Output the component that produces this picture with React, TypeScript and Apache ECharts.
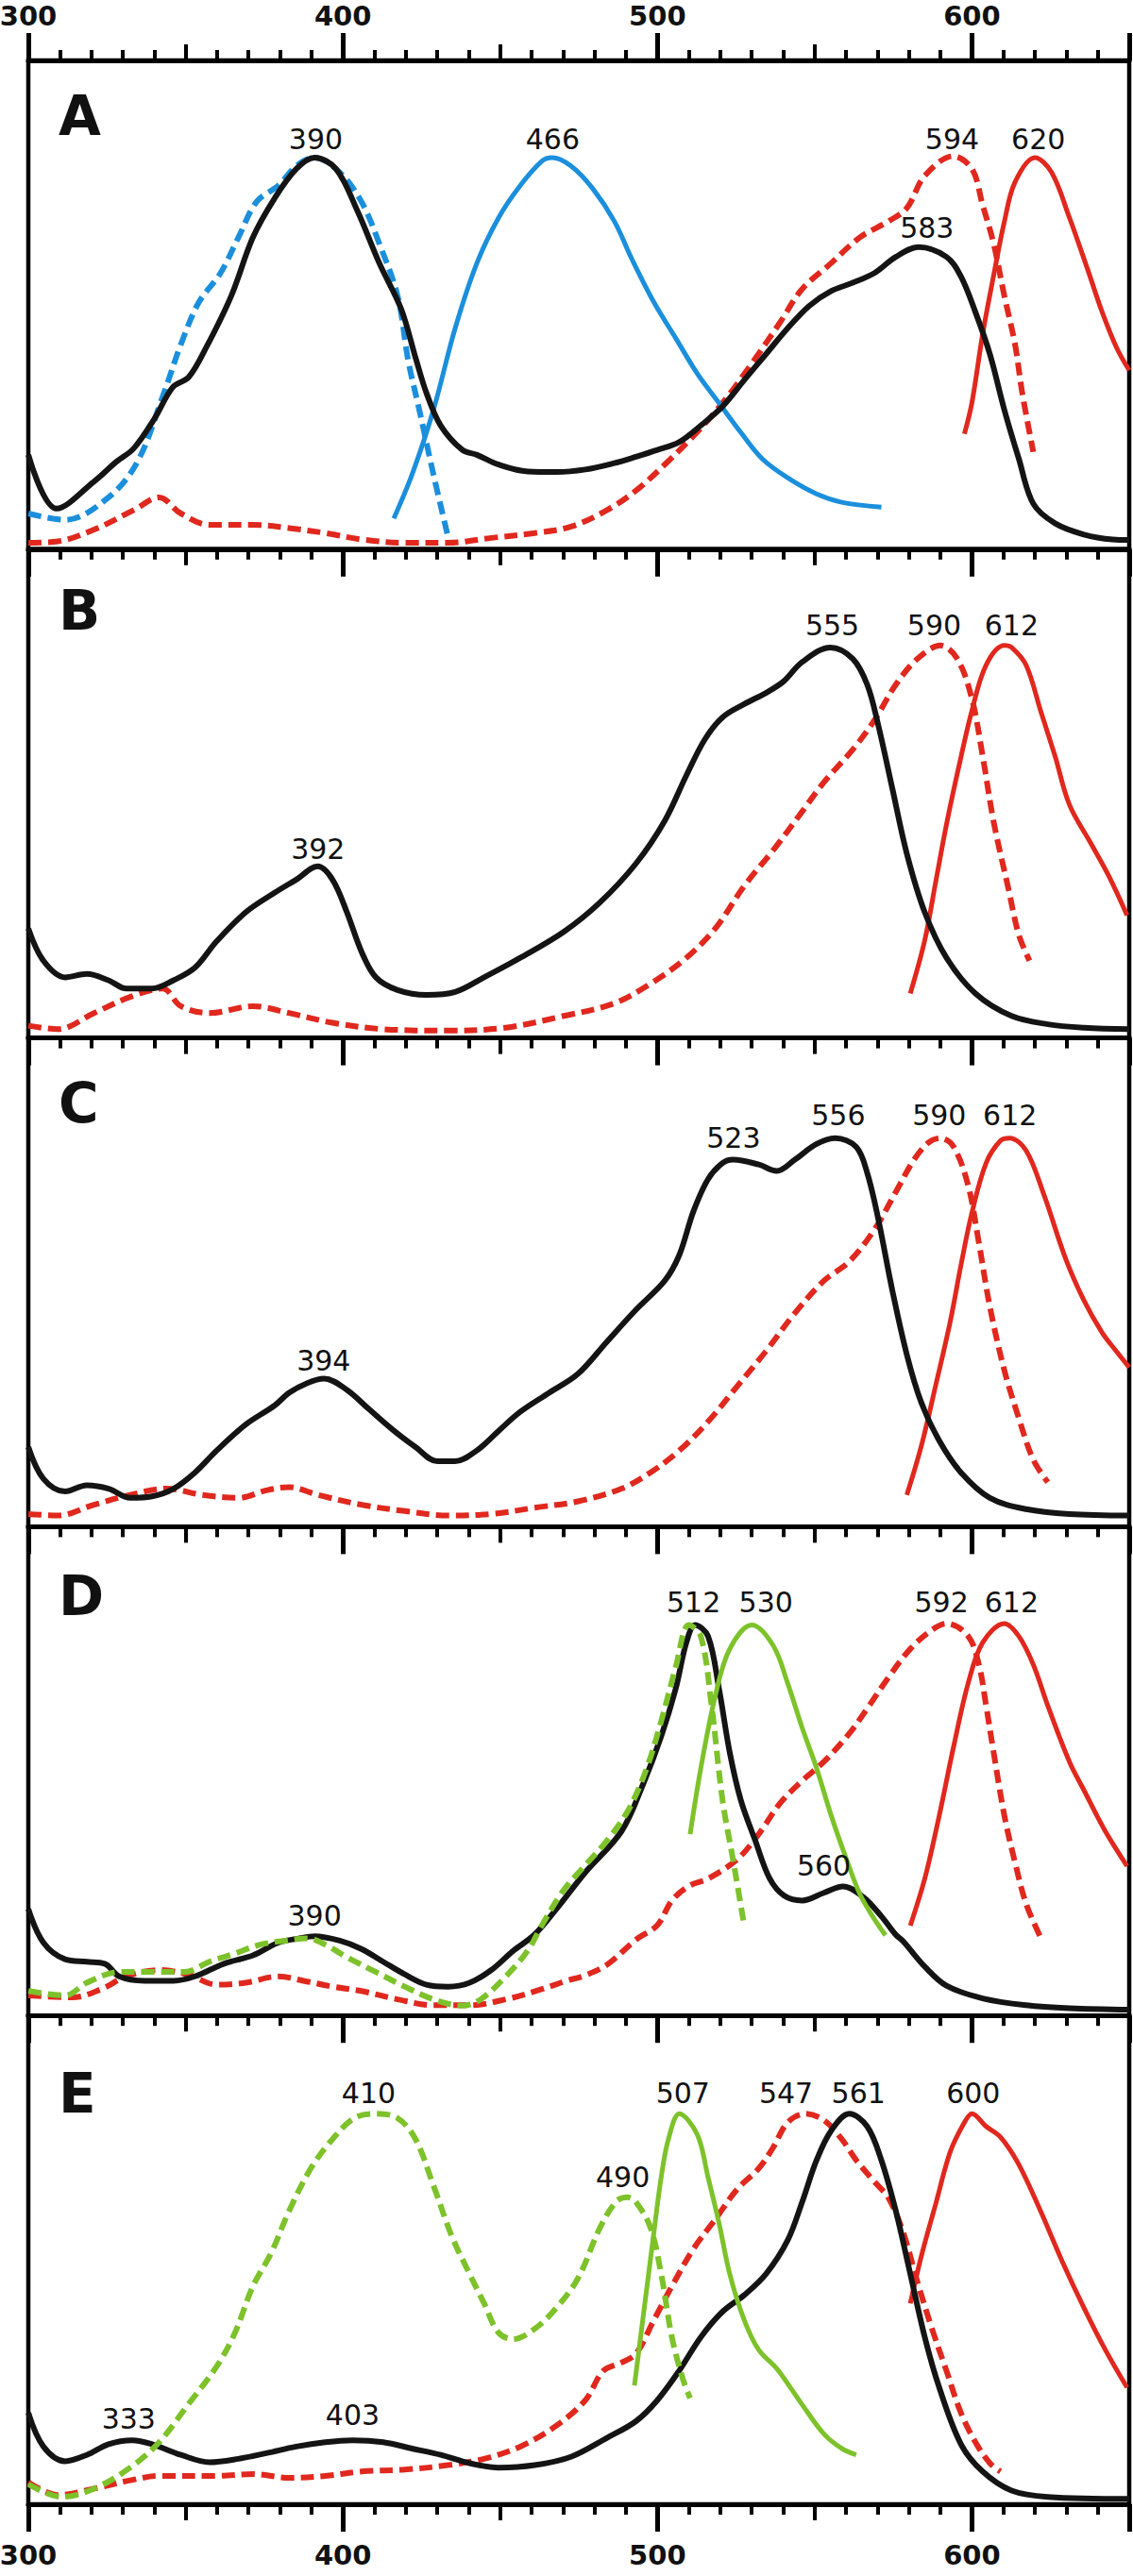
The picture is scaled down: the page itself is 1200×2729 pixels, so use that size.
import React, { useEffect, useRef } from "react";
import * as echarts from "echarts";

// ---------- axis / panel texts ----------
const X_MIN = 300;
const X_MAX = 650;
const TICK_LABELS = [300, 400, 500, 600];
const PANEL_LETTERS = ["A", "B", "C", "D", "E"];

// ---------- panel A ----------
const A_black = [[300,19.3],[309,8.3],[321,13.9],[328,17.9],[333.5,20.6],[340,26.6],[346,33.2],[351,35.2],[356.5,41.2],[364.5,51.8],[371.4,63.8],[378.3,71.8],[385.2,77.8],[391,80.1],[397.8,77.8],[404.7,69.1],[411.6,58.5],[418.5,49.2],[423.1,39.2],[426.6,31.9],[431.1,25.3],[438,20.3],[442.6,19.3],[449.5,17.3],[458.7,15.9],[467.9,15.8],[477.1,16.3],[486.3,17.6],[493.2,18.9],[500,20.3],[506.9,21.9],[513.8,25.3],[520.7,29.2],[527.6,34.6],[534.5,39.9],[541.4,45.2],[548.3,49.8],[555.2,52.8],[562.1,54.5],[569,56.5],[575.8,59.8],[583,61.8],[591.9,59.8],[596.5,55.8],[601.1,48.5],[605.7,39.9],[610.3,28.5],[614.9,18.5],[619.5,9.3],[626.4,5.3],[635.6,3.0],[644.7,2.0],[650,1.9]];
const A_blueDash = [[300,7.3],[311.7,6.0],[325.5,10.6],[334.7,17.9],[342.7,31.2],[348.5,41.9],[354.2,50.5],[361.1,56.5],[366.8,63.8],[372.6,71.1],[379.5,74.4],[385.2,78.4],[391,80.1],[399,77.1],[405.9,71.1],[411.6,62.5],[417.4,51.8],[420.8,38.5],[424.3,28.5],[428.8,15.3],[433.4,2.6]];
const A_blueSolid = [[416.2,6.3],[422,15.3],[428.8,28.5],[435.7,45.2],[442.6,58.5],[449.5,67.8],[456.4,74.4],[463.3,79.4],[466.5,80.1],[472.5,78.4],[479.4,73.8],[486.3,67.1],[492,59.2],[498.9,50.5],[505.8,43.2],[512.7,35.9],[519.6,29.9],[526.5,23.9],[533.3,18.5],[541.4,14.6],[550.6,11.3],[558.6,9.6],[571.2,8.6]];
const A_redDash = [[300,1.3],[309.4,1.6],[320.9,4.0],[333.5,8.0],[341.6,10.6],[348.5,7.3],[357.6,5.0],[371.4,5.0],[382.9,4.3],[394.4,3.3],[405.9,2.0],[419.7,1.3],[433.4,1.3],[447.2,2.3],[461,3.3],[472.5,4.6],[484,8.0],[493.2,12.0],[502.3,17.3],[511.5,23.2],[520.7,29.9],[529.9,37.9],[539.1,46.5],[546,53.2],[555.2,58.5],[564.4,63.8],[573.5,67.1],[579.3,69.8],[585,76.4],[594,80.4],[600,77.8],[603.4,70.4],[606.9,62.5],[610.3,51.8],[613.7,41.9],[616,31.9],[619.5,19.9]];
const A_redSolid = [[597.6,23.6],[600,30],[603.4,44],[606.9,56],[610.3,67],[613.7,75.1],[620,80.1],[625.3,77.1],[631,67.8],[636.8,57.2],[641.4,48.5],[646,41.2],[650,36.6]];
const A_labels: [number, number, string][] = [[391.4,83.9,"390"],[466.7,83.9,"466"],[593.7,83.9,"594"],[621.1,83.9,"620"],[585.7,65.7,"583"]];

// ---------- panel B ----------
const B_black = [[300,22.4],[304.8,15.8],[311.7,12.4],[318.6,13.1],[325.5,11.8],[331.2,10.1],[339.3,10.1],[346.2,11.8],[353,14.4],[359.9,19.8],[369.1,25.7],[378.3,29.7],[385.2,32.4],[392,35.1],[396.7,32.4],[401.3,25.7],[405.9,17.7],[410.5,12.4],[417.4,9.8],[426.6,8.8],[435.7,9.4],[444.9,12.4],[456.4,16.4],[470.2,21.7],[481.7,27.7],[493.2,35.7],[502.3,44.4],[509.2,53.7],[515,61.0],[520.7,65.6],[527.6,68.3],[534.5,70.6],[540.2,73.0],[546,76.9],[555,79.9],[562.1,77.6],[566.7,72.3],[570.1,64.3],[574.7,51.0],[579.3,37.7],[585,25.7],[591.9,16.4],[601.1,9.1],[612.6,4.5],[624.1,2.8],[635.6,2.1],[650,1.8]];
const B_redDash = [[300,2.5],[309.4,1.8],[320.9,5.1],[332.4,8.4],[342.7,10.1],[348.5,6.5],[357.6,5.1],[371.4,6.5],[382.9,5.1],[396.7,3.1],[412.8,1.8],[433.4,1.5],[451.8,2.1],[470.2,4.5],[486.3,7.1],[497.8,11.1],[509.2,16.4],[518.4,22.4],[527.6,31.1],[536.8,38.4],[546,46.3],[552.9,52.3],[562.1,59.0],[569,65.0],[575.8,72.3],[582.7,77.6],[590,80.3],[595.3,77.6],[599.9,69.6],[603.4,57.7],[606.9,44.2],[611.4,31.1],[614.9,21.1],[618.3,15.8]];
const B_redSolid = [[580.4,9.1],[585,20],[588.5,32],[592,44],[596,56],[600,67],[604.5,76.3],[610.3,80.3],[612.6,79.9],[617.2,76.3],[621.8,67.0],[626.4,57.7],[631,47.7],[637.9,39.7],[643.6,33.0],[649.3,25.1]];
const B_labels: [number, number, string][] = [[555.6,84.4,"555"],[588,84.4,"590"],[612.6,84.4,"612"],[392.1,38.7,"392"]];

// ---------- panel C ----------
const C_black = [[300,16.3],[304.8,9.8],[311.7,7.2],[318.6,8.5],[325.5,7.8],[332.4,5.9],[339.3,6.2],[346.2,7.8],[353,11.1],[359.9,15.6],[369.1,20.9],[378.3,24.8],[382.9,27.4],[388.7,29.4],[394,30.3],[401.3,28.0],[408.2,24.1],[416.3,19.6],[423.1,16.3],[430,13.4],[435.7,13.4],[442.6,15.6],[449.5,19.6],[456.4,23.5],[465.6,27.4],[474.8,31.3],[484,37.9],[493.2,44.4],[502.3,50.3],[506.9,55.5],[511.5,64.6],[516.1,71.1],[520.7,74.4],[524,75.1],[532.2,74.1],[537.9,72.8],[543.7,75.1],[550.6,78.3],[556.5,79.5],[563.2,77.7],[566.7,72.4],[570.1,63.3],[574.7,48.3],[579.3,35.2],[583.9,25.4],[589.6,17.6],[596.5,11.1],[605.7,5.9],[617.2,3.6],[631,2.6],[650,2.3]];
const C_redDash = [[300,2.6],[309.4,2.3],[320.9,4.5],[332.4,6.5],[343.9,7.8],[355.4,6.5],[366.8,5.9],[376,7.5],[382.9,8.1],[392.1,6.5],[405.9,4.5],[419.7,3.2],[433.4,2.3],[447.2,2.6],[461,3.9],[474.8,5.2],[488.6,7.8],[497.8,11.1],[507,15.6],[516.1,21.5],[525.3,28.7],[534.5,35.9],[543.7,43.7],[552.9,50.3],[560.9,54.2],[568.9,60.7],[575.8,68.5],[581.6,75.1],[586.2,78.6],[590,79.5],[594.2,77.7],[598.8,69.8],[602.2,58.1],[605.7,45.0],[610.3,32.0],[614.9,22.2],[619.5,13.7],[624.1,9.1]];
const C_redSolid = [[579.3,6.5],[583.9,16.5],[588.5,29],[593.1,42],[596.5,53.5],[599.9,64],[604.5,74.4],[609.1,79.0],[612,79.5],[617.2,77.0],[622.9,67.9],[629.8,54.8],[635.6,46.3],[641.3,39.8],[645.9,35.9],[650,32.6]];
const C_labels: [number, number, string][] = [[557.5,84.2,"556"],[589.6,84.2,"590"],[612.1,84.2,"612"],[524.2,79.5,"523"],[393.9,34.0,"394"]];

// ---------- panel D ----------
const D_black = [[300,21.8],[304.8,14.9],[311.7,11.5],[318.6,11.0],[324.3,10.6],[328.9,8.0],[337,7.1],[346.1,7.1],[353,8.0],[362.2,10.6],[371.4,12.3],[379.5,14.9],[386.3,15.8],[391,16.2],[399,15.3],[405.9,13.6],[412.8,11.0],[419.7,8.4],[426.6,6.3],[433.5,5.9],[440.3,6.7],[447.2,9.3],[454.1,13.2],[461,16.6],[467.9,21.8],[477.1,29.3],[488.6,37.7],[495.5,47.4],[501.2,57.1],[505.8,66.8],[509.2,76.3],[512,79.9],[516.1,77.6],[519.6,66.8],[523,53.8],[526.5,44.1],[531.1,35.8],[535.7,28.0],[540.3,24.5],[546,23.5],[552.9,25.1],[559,26.4],[565.5,24.2],[571.2,20.3],[575.8,16.5],[578.1,15.2],[585,10.0],[591.9,6.1],[603.4,3.5],[617.2,2.1],[631,1.5],[650,1.2]];
const D_greenDash = [[300,5.0],[311.7,4.1],[318.6,6.7],[328.9,8.9],[339.2,8.9],[349.6,8.9],[357.6,11.0],[365.7,12.7],[373.7,14.5],[381.7,15.3],[388.6,15.8],[394.4,14.5],[401.3,11.9],[410.5,8.9],[419.7,5.9],[428.8,3.3],[438,2.0],[443.8,3.3],[451.8,8.0],[458.7,13.2],[463.3,18.5],[470,25.5],[476,30.0],[484,35.8],[490.9,42.2],[496.6,50.6],[501.2,60.2],[505.8,71.2],[510,79.9],[513.8,77.6],[517.2,63.5],[520.7,44.1],[524.2,31.3],[527.6,18.4]];
const D_greenSolid = [[510.4,37.1],[513.8,50.6],[518.4,65.4],[523,75.0],[530,79.9],[536.8,75.7],[541.4,68.0],[546,58.9],[550.6,50.6],[555.2,41.0],[559.8,32.5],[564.4,24.8],[569,19.7],[572.5,16.4]];
const D_redDash = [[300,4.1],[314,3.7],[323.2,5.4],[331.2,8.0],[341.5,9.3],[350.7,8.4],[359.9,6.3],[369.1,6.7],[379.5,8.0],[387.5,7.1],[396.7,5.9],[405.9,5.0],[417.4,3.3],[428.8,2.1],[440.3,2.1],[451.8,3.3],[463.3,5.4],[471.1,7.1],[477,8.2],[484,10.4],[493.2,15.5],[500,18.5],[504.6,23.5],[510,26.5],[516.1,28.0],[525.3,31.9],[532.2,37.1],[539.1,43.5],[546,48.0],[552.9,51.9],[560.9,57.6],[566.7,62.8],[573.5,69.2],[580.4,75.0],[587.3,78.9],[592,80.2],[598.8,77.6],[602.2,71.8],[604.5,63.4],[606.9,53.8],[610.3,40.9],[613.7,31.3],[617.2,22.9],[621.8,16.0]];
const D_redSolid = [[580.4,18.4],[585,28.0],[589.6,40.9],[594.2,55.1],[598.8,68.0],[603.4,76.3],[610.3,80.2],[614.9,77.6],[619.5,71.8],[624.1,63.4],[631,51.9],[635.6,46.1],[642.4,37.7],[649.3,30.6]];
const D_labels: [number, number, string][] = [[511.5,84.6,"512"],[534.5,84.6,"530"],[590.3,84.6,"592"],[612.6,84.6,"612"],[552.9,30.6,"560"],[391,20.4,"390"]];

// ---------- panel E ----------
const E_black = [[300,18.7],[304.8,11.8],[311.7,8.8],[318.6,10.1],[325.5,12.3],[333,13.1],[339.3,12.3],[348.5,10.1],[357.6,8.6],[366.8,9.3],[376,10.5],[385.2,11.8],[394.4,12.7],[403,13.1],[412.8,12.7],[422,11.4],[431.1,10.1],[440.3,8.4],[449.5,7.5],[461,8.0],[472.5,9.7],[484,13.6],[493.2,17.0],[500,21.3],[506.9,27.3],[513.8,34.2],[520.7,39.4],[527.6,42.8],[534.5,47.1],[541.4,54.0],[546,61.8],[550.6,70.4],[555.2,76.4],[561,79.9],[566.7,77.3],[571.2,70.4],[575.8,60.0],[580.4,47.1],[585,34.2],[589.6,23.9],[596.5,12.3],[603.4,6.7],[612.6,2.8],[624.1,1.5],[650,1.1]];
const E_greenDash = [[300,4.1],[310.6,1.5],[320.9,3.2],[332.4,7.5],[341.6,12.7],[350.8,20.4],[359.9,28.2],[365.7,35.1],[371.4,44.6],[377.2,51.4],[382.9,60.0],[389.8,68.7],[396.7,74.7],[403.6,79.0],[410,79.9],[417.4,79.0],[423.1,74.7],[428.8,65.2],[434.6,54.9],[440.3,47.1],[444.9,41.1],[449.5,35.1],[454.1,33.8],[461,35.9],[467.9,40.2],[474.8,46.3],[481.7,56.5],[487,62.0],[490.5,62.8],[493.2,61.8],[497.8,56.6],[501.2,47.1],[504.6,34.2],[508.1,25.6],[510.4,21.7]];
const E_greenSolid = [[492.7,24.3],[495.5,38.5],[498.9,55.7],[501.2,66.9],[503.5,74.7],[507,79.9],[512.7,75.6],[516.1,66.9],[519.6,57.5],[523,47.1],[527.6,37.7],[532.2,31.6],[537.9,27.8],[541.4,24.7],[546,20.4],[552.9,14.4],[558.6,11.4],[563.2,10.1]];
const E_redDash = [[300,4.5],[309.4,1.9],[320.9,3.2],[332.4,4.9],[341.6,5.8],[359.9,5.8],[371.4,6.2],[382.9,5.4],[394.4,5.8],[405.9,6.7],[419.7,7.1],[433.4,8.0],[444.9,9.3],[456.4,11.8],[467.9,16.1],[477.1,21.3],[482.8,27.3],[488.6,29.0],[493.2,30.8],[498.9,37.7],[504.6,44.6],[511.5,52.3],[518.4,58.3],[525.3,64.4],[532.2,68.7],[536.8,73.0],[541.4,78.1],[547,79.9],[552.9,78.6],[558.6,74.7],[563.2,70.4],[569,66.0],[573.5,62.6],[578.1,55.7],[582.7,45.4],[587.3,35.9],[591.9,27.3],[596.5,18.7],[601.1,12.7],[605.7,8.4],[609.1,6.7]];
const E_redSolid = [[580.4,41.1],[584,51],[588.5,61.5],[593.1,72.1],[597.6,78.1],[600,79.9],[604.5,77.3],[609.1,75.1],[614.9,69.5],[621.8,60.0],[628.7,49.7],[635.6,40.2],[642.4,31.6],[649.3,23.9]];
const E_labels: [number, number, string][] = [[408.2,84.2,"410"],[508.1,84.2,"507"],[540.9,84.2,"547"],[563.9,84.2,"561"],[600.4,84.2,"600"],[489,66.9,"490"],[331.9,17.4,"333"],[403.1,18.3,"403"]];

// ---------- styling ----------
const BLACK = "#141414";
const RED = "#e0281e";
const BLUE = "#1b8fdc";
const GREEN = "#7dc22a";

type Curve = { data: number[][]; color: string; dashed: boolean; width: number };

const PANELS: Curve[][] = [
  [
    { data: A_redDash, color: RED, dashed: true, width: 6 },
    { data: A_redSolid, color: RED, dashed: false, width: 5 },
    { data: A_blueSolid, color: BLUE, dashed: false, width: 5 },
    { data: A_blueDash, color: BLUE, dashed: true, width: 6 },
    { data: A_black, color: BLACK, dashed: false, width: 6 },
  ],
  [
    { data: B_redDash, color: RED, dashed: true, width: 6 },
    { data: B_redSolid, color: RED, dashed: false, width: 5 },
    { data: B_black, color: BLACK, dashed: false, width: 6 },
  ],
  [
    { data: C_redDash, color: RED, dashed: true, width: 6 },
    { data: C_redSolid, color: RED, dashed: false, width: 5 },
    { data: C_black, color: BLACK, dashed: false, width: 6 },
  ],
  [
    { data: D_redDash, color: RED, dashed: true, width: 6 },
    { data: D_redSolid, color: RED, dashed: false, width: 5 },
    { data: D_black, color: BLACK, dashed: false, width: 6 },
    { data: D_greenDash, color: GREEN, dashed: true, width: 6 },
    { data: D_greenSolid, color: GREEN, dashed: false, width: 5 },
  ],
  [
    { data: E_redDash, color: RED, dashed: true, width: 6 },
    { data: E_redSolid, color: RED, dashed: false, width: 5 },
    { data: E_black, color: BLACK, dashed: false, width: 6 },
    { data: E_greenDash, color: GREEN, dashed: true, width: 6 },
    { data: E_greenSolid, color: GREEN, dashed: false, width: 5 },
  ],
];
const PANEL_LABELS = [A_labels, B_labels, C_labels, D_labels, E_labels];
// vertical centre of each panel letter, in px below the panel's top edge
const LETTER_OFFSETS = [58, 64, 68, 73, 82];

const W = 1200;
const Hpx = 2729;
const PLOT_TOP = 64;
const PLOT_BOTTOM = 2653;
const LEFT = 30;
const RIGHT = 4;
const PANEL_H = (PLOT_BOTTOM - PLOT_TOP) / PANEL_LETTERS.length;

const FONT = "DejaVu Sans";

function buildOption() {
  const grid: any[] = [];
  const xAxis: any[] = [];
  const yAxis: any[] = [];
  const series: any[] = [];
  const graphic: any[] = [];

  const axisLabelStyle = {
    fontFamily: FONT,
    fontWeight: "bold",
    fontSize: 29,
    color: "#111",
    formatter: (v: number) => (TICK_LABELS.indexOf(v) >= 0 ? String(v) : ""),
  };

  const pushAxes = (i: number, position: "top" | "bottom", showLabel: boolean) => {
    const base = {
      gridIndex: i,
      type: "value",
      min: X_MIN,
      max: X_MAX,
      position,
      splitLine: { show: false },
      axisPointer: { show: false },
    };
    const majorIdx = xAxis.length;
    xAxis.push({
      ...base,
      interval: 100,
      axisLine: { show: true, onZero: false, lineStyle: { color: "#000", width: 5 } },
      axisTick: { show: true, length: 29, lineStyle: { color: "#000", width: 5 } },
      axisLabel: {
        show: showLabel,
        margin: position === "top" ? 33 : 39,
        showMinLabel: true,
        showMaxLabel: true,
        ...axisLabelStyle,
      },
    });
    xAxis.push({
      ...base,
      interval: 50,
      axisLine: { show: false, onZero: false },
      axisTick: { show: true, length: 17, lineStyle: { color: "#000", width: 4 } },
      minorTick: { show: true, splitNumber: 5, length: 11, lineStyle: { color: "#000", width: 4 } },
      axisLabel: { show: false },
    });
    return majorIdx;
  };

  PANELS.forEach((curves, i) => {
    const top = PLOT_TOP + i * PANEL_H;
    grid.push({
      left: LEFT,
      right: RIGHT,
      top,
      height: PANEL_H,
      show: true,
      borderColor: "#000",
      borderWidth: 4.5,
      backgroundColor: "transparent",
      containLabel: false,
      outerBoundsMode: "none",
    });
    yAxis.push({ gridIndex: i, type: "value", min: 0, max: 100, show: false });
    const xi = pushAxes(i, "bottom", i === PANELS.length - 1);
    if (i === 0) pushAxes(i, "top", true);

    curves.forEach((c, k) => {
      series.push({
        type: "line",
        xAxisIndex: xi,
        yAxisIndex: i,
        data: c.data,
        showSymbol: false,
        symbol: "none",
        smooth: 0.35,
        silent: true,
        z: 2 + k,
        lineStyle: {
          color: c.color,
          width: c.width,
          type: c.dashed ? [14, 7] : "solid",
          cap: "butt",
          join: "round",
        },
      });
    });

    series.push({
      type: "scatter",
      xAxisIndex: xi,
      yAxisIndex: i,
      silent: true,
      symbolSize: 2,
      itemStyle: { color: "rgba(0,0,0,0)" },
      z: 20,
      data: PANEL_LABELS[i].map((l) => ({ value: [l[0], l[1]], name: l[2] })),
      label: {
        show: true,
        position: "inside",
        formatter: "{b}",
        fontFamily: FONT,
        fontSize: 30,
        color: "#111",
        opacity: 1,
      },
    });

    graphic.push({
      type: "text",
      left: 62,
      top: top + LETTER_OFFSETS[i] - 28,
      silent: true,
      style: {
        text: PANEL_LETTERS[i],
        fontFamily: FONT,
        fontWeight: "bold",
        fontSize: 58,
        fill: "#111",
      },
    });
  });

  return {
    animation: false,
    backgroundColor: "#ffffff",
    grid,
    xAxis,
    yAxis,
    series,
    graphic,
  };
}

export default function App() {
  const ref = useRef<HTMLDivElement>(null);
  useEffect(() => {
    document.body.style.margin = "0";
    if (!ref.current) return;
    const chart = echarts.init(ref.current, null, { renderer: "svg", width: W, height: Hpx });
    chart.setOption(buildOption() as any);
    return () => chart.dispose();
  }, []);
  return <div ref={ref} style={{ width: W, height: Hpx }} />;
}
